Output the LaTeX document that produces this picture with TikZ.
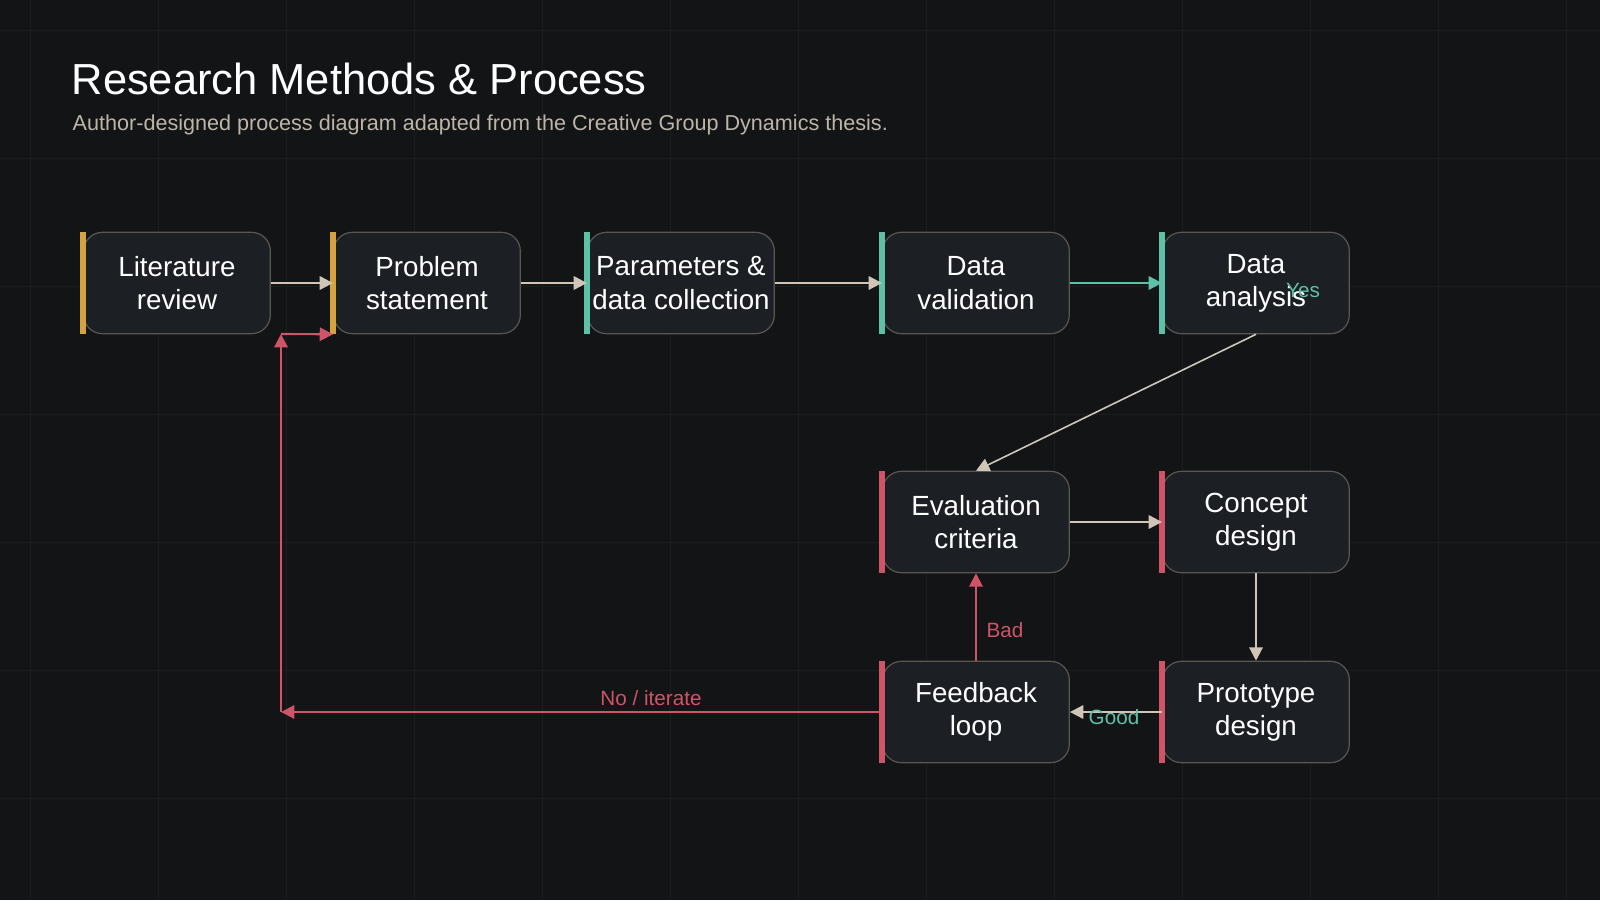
\documentclass[tikz,border=0pt]{standalone}
\usepackage{fontspec}
\setmainfont{Liberation Sans}
\usetikzlibrary{arrows.meta}
\definecolor{bg}{HTML}{121416}
\definecolor{boxf}{HTML}{1C1F23}
\definecolor{boxd}{HTML}{5A5750}
\definecolor{gold}{HTML}{D4A23E}
\definecolor{teal}{HTML}{5FC0A8}
\definecolor{rose}{HTML}{CF5468}
\definecolor{lne}{HTML}{CFC6B8}
\definecolor{sub}{HTML}{BDB5A8}
\begin{document}
\begin{tikzpicture}[x=0.75pt,y=-0.75pt,
 box/.style={draw=boxd,fill=boxf,rounded corners=14pt,minimum width=140pt,minimum height=76pt,inner sep=0pt,align=center,text=white,font=\fontsize{20.8}{25}\selectfont,line width=0.9pt},
 ar/.style={-{Triangle[length=10pt,width=10pt]},line width=1.6pt},
 lab/.style={font=\fontsize{15.5}{18}\selectfont}]
\fill[bg] (0,0) rectangle (1600,900);
\useasboundingbox (0,0) rectangle (1600,900);
\foreach \x in {30,158,286,414,542,670,798,926,1054,1182,1310,1438,1566} \draw[white!4!bg,line width=0.6pt] (\x,0)--(\x,900);
\foreach \y in {30,158,286,414,542,670,798} \draw[white!4!bg,line width=0.6pt] (0,\y)--(1600,\y);
\node[anchor=west,text=white,font=\fontsize{32.6}{38}\selectfont] (t) at (67,79) {Research Methods \& Process};
\node[anchor=west,text=sub,font=\fontsize{16.2}{19}\selectfont] (s) at (68,125) {Author-designed process diagram adapted from the Creative Group Dynamics thesis.};
\foreach \n/\x/\y/\c/\t in {lit/177/283/gold/{Literature\\review},prob/427/283/gold/{Problem\\statement},par/681/283/teal/{Parameters \&\\data collection},val/976/283/teal/{Data\\validation},ana/1256/283/teal/{Data\\analysis},eva/976/522/rose/{Evaluation\\criteria},con/1256/522/rose/{Concept\\design},fee/976/712/rose/{Feedback\\loop},pro/1256/712/rose/{Prototype\\design}}{
 \node[box] (\n) at (\x,\y) {\t};
 \fill[\c] ([xshift=-2pt]\n.north west) rectangle ([xshift=2pt]\n.south west);
}
\draw[ar,lne] (lit.east)--(prob.west);
\draw[ar,lne] (prob.east)--(par.west);
\draw[ar,lne] (par.east)--(val.west);
\draw[ar,teal] (val.east)--(ana.west);
\draw[ar,lne,line width=1.2pt] (ana.south)--(eva.north);
\node[lab,text=teal] (yes) at (1303,290) {Yes};
\draw[ar,lne] (eva.east)--(con.west);
\draw[ar,lne] (con.south)--(pro.north);
\draw[ar,lne] (pro.west)--(fee.east);
\node[lab,text=teal] (good) at (1114,717) {Good};
\draw[ar,rose] (fee.north)--(eva.south);
\node[lab,text=rose] (bad) at (1005,630) {Bad};
\coordinate (c1) at (281,712);
\coordinate (c2) at (281,334);
\draw[ar,rose] (fee.west)--(c1);
\node[lab,text=rose] (no) at (651,698) {No / iterate};
\draw[ar,rose] (c1)--(c2);
\draw[ar,rose] (281,334)--(prob.south west);
\end{tikzpicture}
\end{document}
